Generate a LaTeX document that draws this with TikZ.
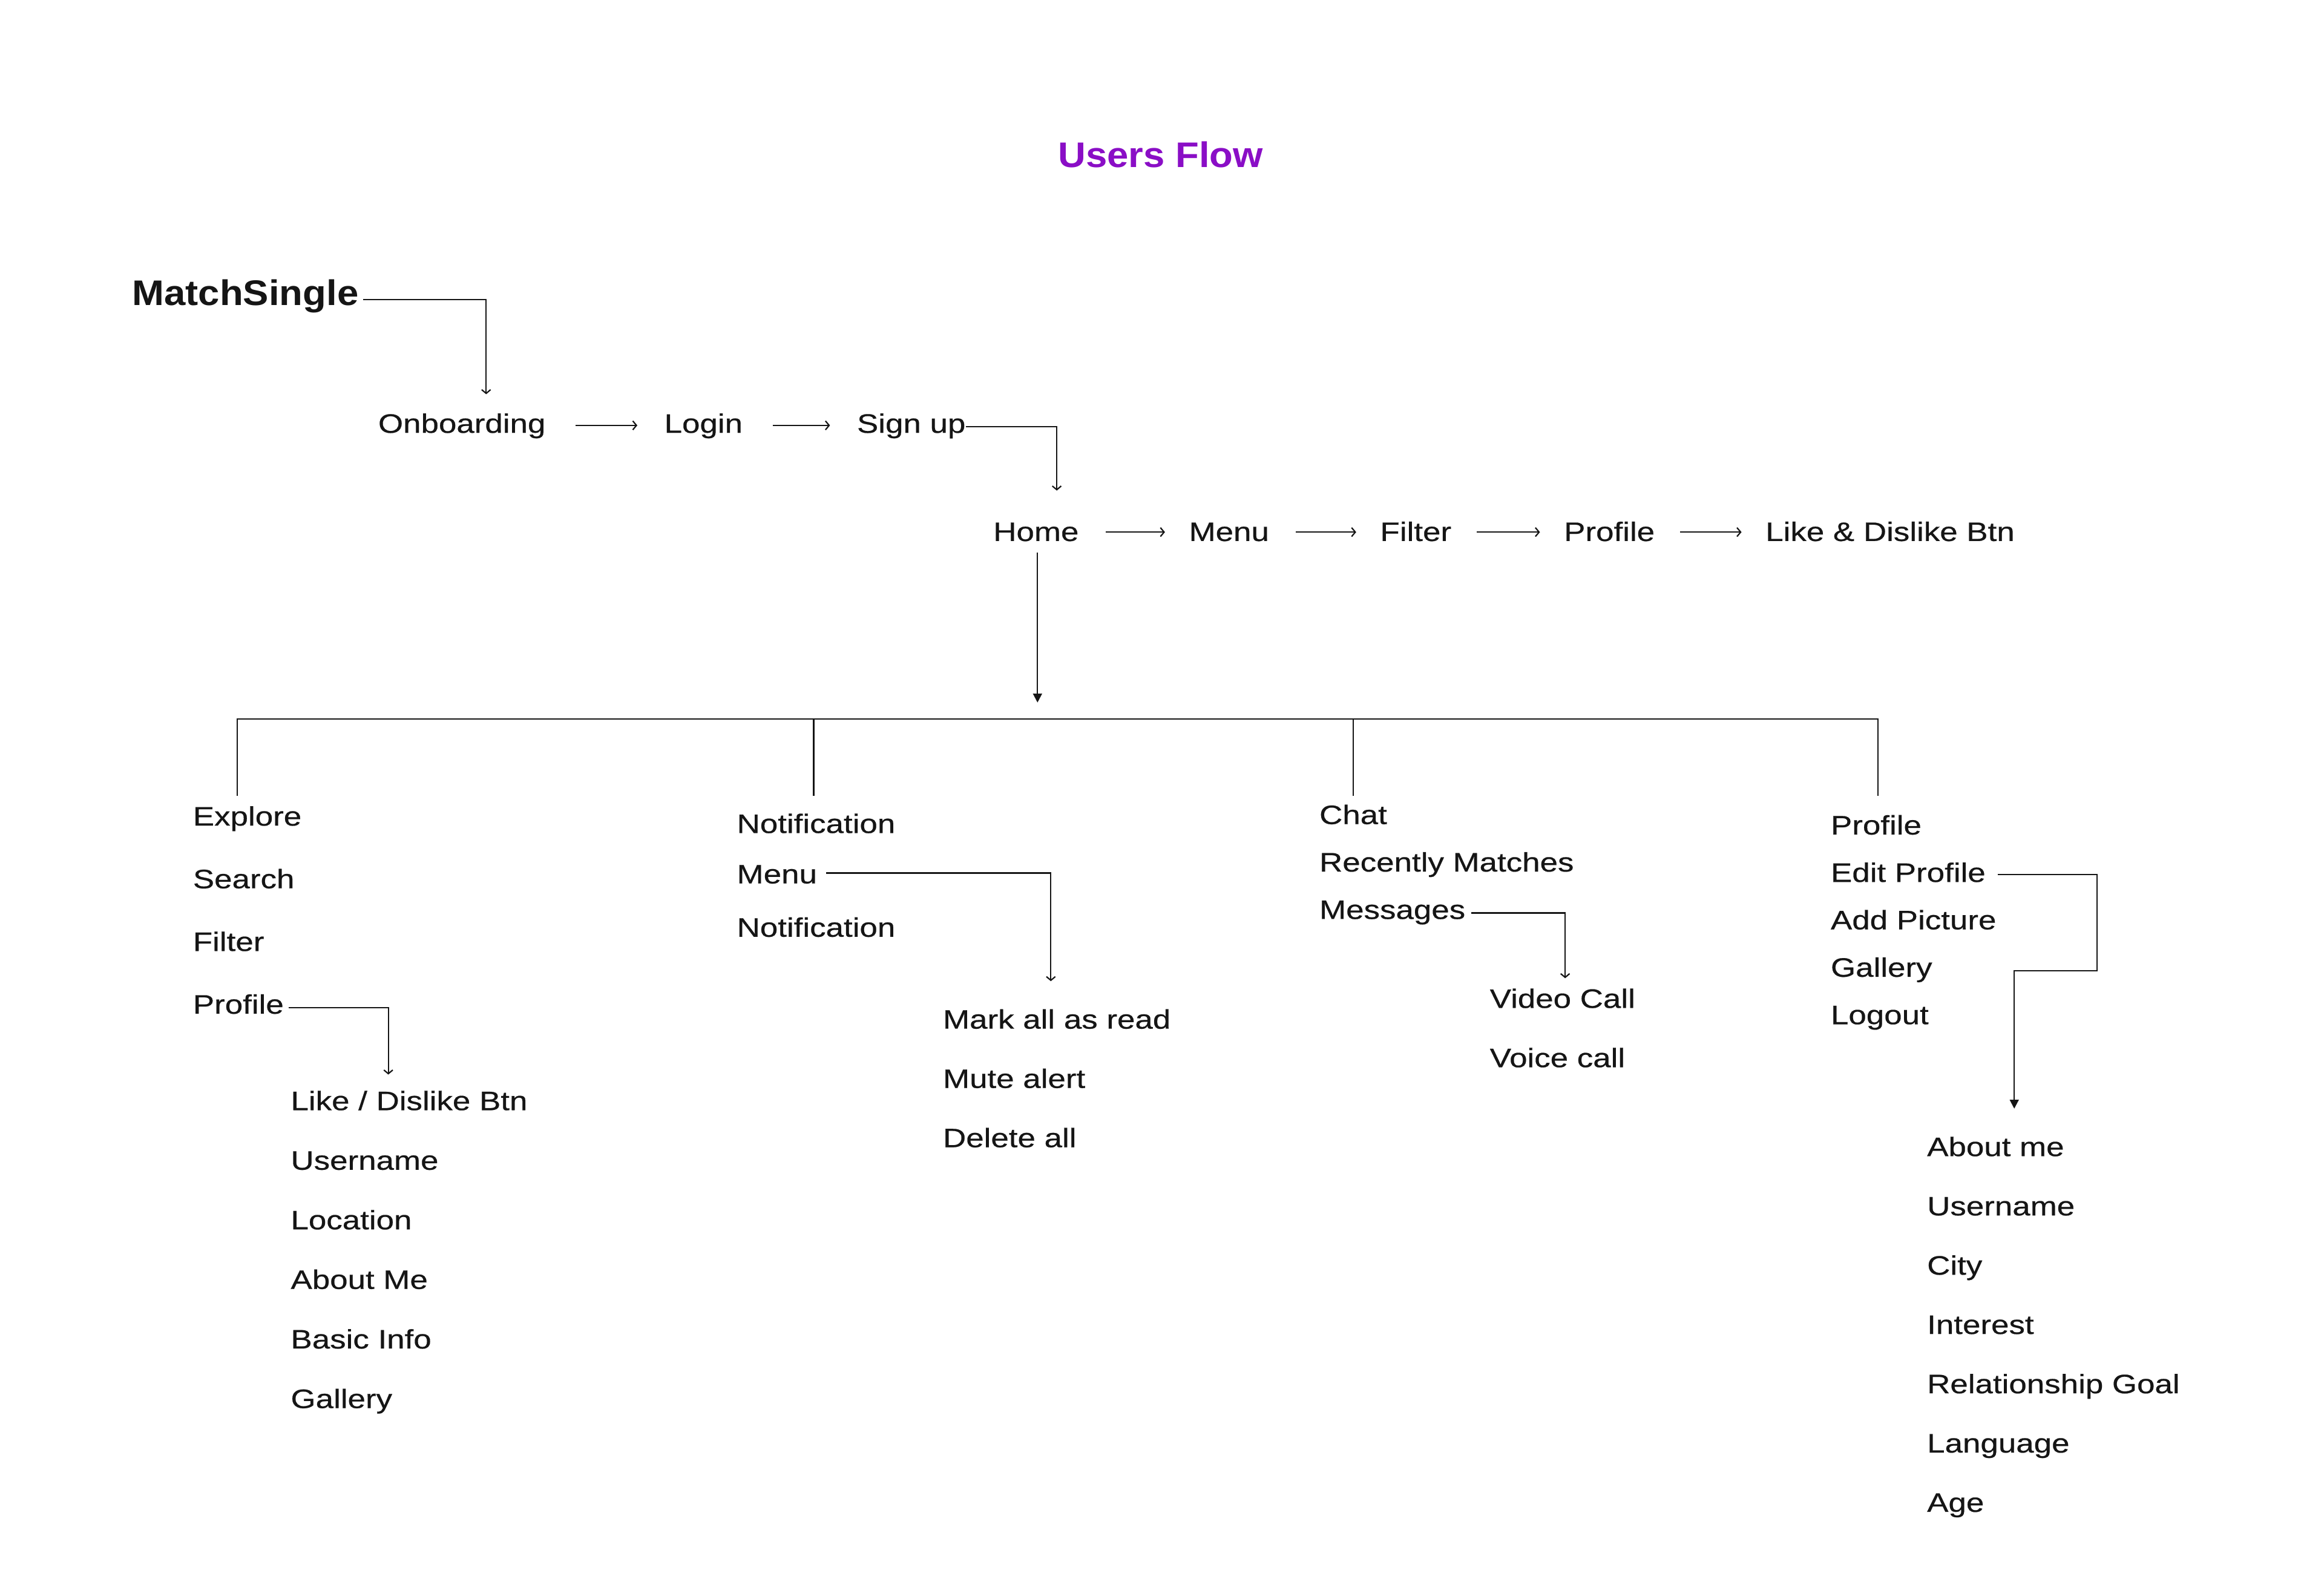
\documentclass[tikz,border=0pt]{standalone}
\usepackage{fontspec}
\setmainfont{Liberation Sans}[FakeStretch=1.2,FakeBold=0.5]
\newfontfamily\headfont{Liberation Sans}[FakeStretch=1.08]
\usetikzlibrary{arrows.meta}
\definecolor{ink}{HTML}{151515}
\definecolor{flowpurple}{HTML}{8A0EC6}
\tikzset{
  item/.style={inner sep=0pt, anchor=base west, text=ink, font=\fontsize{18}{22}\selectfont},
  flow/.style={draw=ink, line width=0.9pt, -{Straight Barb[length=2.5pt,width=6pt]}},
  flowfill/.style={draw=ink, line width=0.9pt, -{Triangle[length=6pt,width=6pt]}},
  wire/.style={draw=ink, line width=0.9pt}
}
\begin{document}
\begin{tikzpicture}[x=1pt,y=-1pt]
        \useasboundingbox (0,0) rectangle (1568,1065);
        \node[item, anchor=base, text=flowpurple, font=\headfont\bfseries\fontsize{24}{28}\selectfont] (title) at (783,113) {Users Flow};
        \node[item, font=\headfont\bfseries\fontsize{24}{28}\selectfont] (match) at (89,206) {MatchSingle};

        \node[item] (onb) at (255,292) {Onboarding};
        \node[item] (login) at (448,292) {Login};
        \node[item] (signup) at (578,292) {Sign up};
        \node[item] (home) at (670,365) {Home};
        \node[item] (menu) at (802,365) {Menu};
        \node[item] (filter) at (931,365) {Filter};
        \node[item] (prof) at (1055,365) {Profile};
        \node[item] (likebtn) at (1191,365) {Like \& Dislike Btn};

        \foreach \t [count=\i] in {Explore, Search, Filter, Profile}
            \node[item] (ex\i) at (130,557+42.3*\i-42.3) {\t};
        \foreach \t [count=\i] in {Like / Dislike Btn, Username, Location, About Me, Basic Info, Gallery}
            \node[item] (pd\i) at (196,749+40.2*\i-40.2) {\t};
        \foreach \t/\y [count=\i] in {Notification/562, Menu/596, Notification/632}
            \node[item] (nt\i) at (497,\y) {\t};
        \foreach \t [count=\i] in {Mark all as read, Mute alert, Delete all}
            \node[item] (mk\i) at (636,694+40*\i-40) {\t};
        \foreach \t [count=\i] in {Chat, Recently Matches, Messages}
            \node[item] (ch\i) at (890,556+32*\i-32) {\t};
        \foreach \t [count=\i] in {Video Call, Voice call}
            \node[item] (vc\i) at (1005,680+40*\i-40) {\t};
        \foreach \t [count=\i] in {Profile, Edit Profile, Add Picture, Gallery, Logout}
            \node[item] (pf\i) at (1235,563+32*\i-32) {\t};
        \foreach \t [count=\i] in {About me, Username, City, Interest, Relationship Goal, Language, Age}
            \node[item] (ab\i) at (1300,780+40*\i-40) {\t};

        \draw[flow] ([xshift=3pt,yshift=4pt]match.base east) -| ([xshift=73pt,yshift=26pt]onb.base west);
        \draw[flow] ([xshift=20pt,yshift=5pt]onb.base east) -- ([xshift=-18pt,yshift=5pt]login.base west);
        \draw[flow] ([xshift=20pt,yshift=5pt]login.base east) -- ([xshift=-18pt,yshift=5pt]signup.base west);
        \draw[flow] ([yshift=4pt]signup.base east) -| ([xshift=43pt,yshift=34pt]home.base west);
        \draw[flow] ([xshift=18pt,yshift=6pt]home.base east) -- ([xshift=-16pt,yshift=6pt]menu.base west);
        \draw[flow] ([xshift=18pt,yshift=6pt]menu.base east) -- ([xshift=-16pt,yshift=6pt]filter.base west);
        \draw[flow] ([xshift=17pt,yshift=6pt]filter.base east) -- ([xshift=-16pt,yshift=6pt]prof.base west);
        \draw[flow] ([xshift=17pt,yshift=6pt]prof.base east) -- ([xshift=-16pt,yshift=6pt]likebtn.base west);

        \coordinate (hub) at (700,474);
        \coordinate (bus) at (700,485);
        \draw[flowfill] ([xshift=30pt,yshift=-8pt]home.base west) -- (hub);
        \coordinate (t1) at ([xshift=30pt,yshift=20pt]ex1.base west);
        \coordinate (t2) at ([xshift=52pt,yshift=25pt]nt1.base west);
        \coordinate (t3) at ([xshift=23pt,yshift=19pt]ch1.base west);
        \coordinate (t4) at ([xshift=32pt,yshift=26pt]pf1.base west);
        \draw[wire] (t1) -- (t1 |- bus) -- (t4 |- bus) -- (t4);
        \draw[wire] (t2 |- bus) -- (t2);
        \draw[wire] (t3 |- bus) -- (t3);

        \draw[flow] ([xshift=3pt,yshift=4pt]ex4.base east) -| ([xshift=66pt,yshift=24pt]pd1.base west);
        \draw[flow] ([xshift=6pt,yshift=7pt]nt2.base east) -| ([xshift=73pt,yshift=32pt]mk1.base west);
        \draw[flow] ([xshift=4pt,yshift=4pt]ch3.base east) -| ([xshift=51pt,yshift=20pt]vc1.base west);
        \draw[flowfill] ([xshift=8pt,yshift=5pt]pf2.base east) -- ([xshift=180pt,yshift=5pt]pf2.base west)
            -- ([xshift=180pt,yshift=-60pt]pf2.base west) -| ([xshift=59pt,yshift=32pt]ab1.base west);
    \end{tikzpicture}
\end{document}
